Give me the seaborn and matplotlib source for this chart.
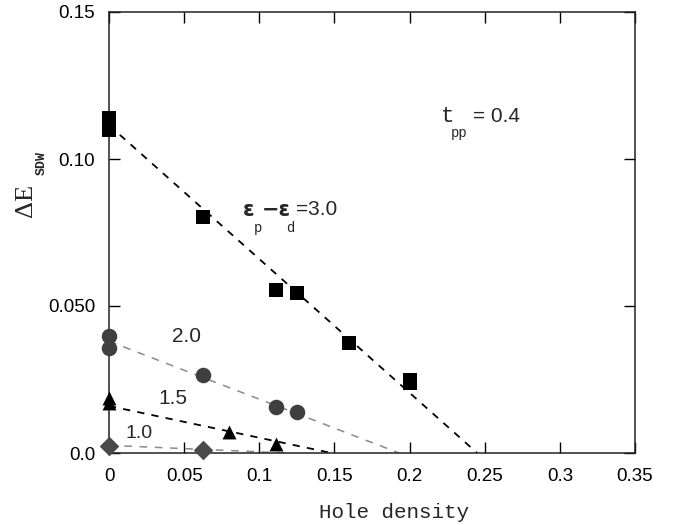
import matplotlib
matplotlib.use("Agg")
import matplotlib.pyplot as plt
import seaborn as sns

# ---- data ----
sq_x = [0.0, 0.0, 0.0625, 0.111, 0.125, 0.16, 0.2, 0.2]
sq_y = [0.1138, 0.1100, 0.0803, 0.0554, 0.0544, 0.0374, 0.0248, 0.0238]
ci_x = [0.0, 0.0, 0.0625, 0.111, 0.125]
ci_y = [0.0398, 0.0357, 0.0265, 0.0155, 0.0138]
tr_x = [0.0, 0.0, 0.08, 0.111]
tr_y = [0.0187, 0.0170, 0.0070, 0.0032]
di_x = [0.0, 0.0625]
di_y = [0.0025, 0.0010]

fit3_x, fit3_y = [0.0, 0.245], [0.1115, 0.0]
fit2_x, fit2_y = [0.0, 0.193], [0.0380, 0.0]
fit15_x, fit15_y = [0.0, 0.148], [0.0160, 0.0]
fit1_x, fit1_y = [0.0, 0.118], [0.0026, 0.0]

xticks = [0, 0.05, 0.1, 0.15, 0.2, 0.25, 0.3, 0.35]
xticklabels = ["0", "0.05", "0.1", "0.15", "0.2", "0.25", "0.3", "0.35"]
yticks = [0.0, 0.05, 0.10, 0.15]
yticklabels = ["0.0", "0.050", "0.10", "0.15"]

sns.set_style("ticks")
plt.rcParams["font.family"] = ["Liberation Sans", "DejaVu Sans"]

fig = plt.figure(figsize=(6.8, 5.25), dpi=100)
ax = fig.add_axes([109/680, 1-453/525, (635-109)/680, (453-12)/525])

# fit lines
sns.lineplot(x=fit3_x, y=fit3_y, ax=ax, color="black", lw=1.3,
             linestyle=(0, (4, 4)), zorder=2)
sns.lineplot(x=fit2_x, y=fit2_y, ax=ax, color="#8a8a8a", lw=1.1,
             linestyle=(0, (5, 5)), zorder=2)
sns.lineplot(x=fit15_x, y=fit15_y, ax=ax, color="black", lw=1.3,
             linestyle=(0, (4, 4)), zorder=2)
sns.lineplot(x=fit1_x, y=fit1_y, ax=ax, color="#8a8a8a", lw=1.1,
             linestyle=(0, (5, 5)), zorder=2)

# markers
sns.scatterplot(x=sq_x, y=sq_y, ax=ax, marker="s", s=115, color="black",
                edgecolor="black", linewidth=0, zorder=3, clip_on=False)
sns.scatterplot(x=ci_x, y=ci_y, ax=ax, marker="o", s=125, color="#3f3f3f",
                edgecolor="#3f3f3f", linewidth=0, zorder=3, clip_on=False)
sns.scatterplot(x=tr_x, y=tr_y, ax=ax, marker="^", s=100, color="black",
                edgecolor="black", linewidth=0, zorder=3, clip_on=False)
sns.scatterplot(x=di_x, y=di_y, ax=ax, marker="D", s=100, color="#4a4a4a",
                edgecolor="#4a4a4a", linewidth=0, zorder=3, clip_on=False)

ax.set_xlim(0, 0.35)
ax.set_ylim(0, 0.15)
ax.set_xticks(xticks)
ax.set_xticklabels(xticklabels)
ax.set_yticks(yticks)
ax.set_yticklabels(yticklabels)
ax.tick_params(direction="in", length=8, width=1, top=True, right=True,
               labelsize=13.5, colors="black")
ax.tick_params(axis="x", pad=11)
ax.tick_params(axis="y", pad=10)
for sp in ax.spines.values():
    sp.set_visible(True)
    sp.set_linewidth(1.1)
    sp.set_color("#222222")
ax.set_xlabel("")
ax.set_ylabel("")

mono = "Liberation Mono"
serif = "Liberation Serif"

# axis labels
fig.text(394/680, 1-512/525, "Hole density", family=mono, fontsize=15,
         ha="center", va="center")
fig.text(26/680, 1-200/525, "ΔE", family=serif, fontsize=19, rotation=90,
         ha="center", va="center")
fig.text(42/680, 1-163/525, "SDW", family=mono, fontsize=9.5, fontweight="bold",
         rotation=90, ha="center", va="center")

# curve annotations
ax.text(0.0893, 0.0827, "ε", fontsize=15, fontweight="bold", ha="left", va="center",
        family=["DejaVu Sans"])
ax.text(0.0993, 0.0765, "p", family=mono, fontsize=10, ha="center", va="center")
ax.text(0.1015, 0.0827, "−ε", fontsize=15, fontweight="bold", ha="left", va="center",
        family=["DejaVu Sans"])
ax.text(0.1207, 0.0765, "d", family=mono, fontsize=10, ha="center", va="center")
ax.text(0.1245, 0.0827, "=3.0", fontsize=15, ha="left", va="center")

ax.text(0.2207, 0.1143, "t", family=mono, fontsize=16, ha="left", va="center")
ax.text(0.2333, 0.1088, "pp", family=mono, fontsize=10, ha="center", va="center")
ax.text(0.2420, 0.1143, "= 0.4", fontsize=15, ha="left", va="center")

ax.text(0.042, 0.0395, "2.0", fontsize=15, ha="left", va="center")
ax.text(0.0327, 0.0187, "1.5", fontsize=15, ha="left", va="center")
ax.text(0.0113, 0.0068, "1.0", fontsize=14, ha="left", va="center")

fig.savefig("out.png", dpi=100)
